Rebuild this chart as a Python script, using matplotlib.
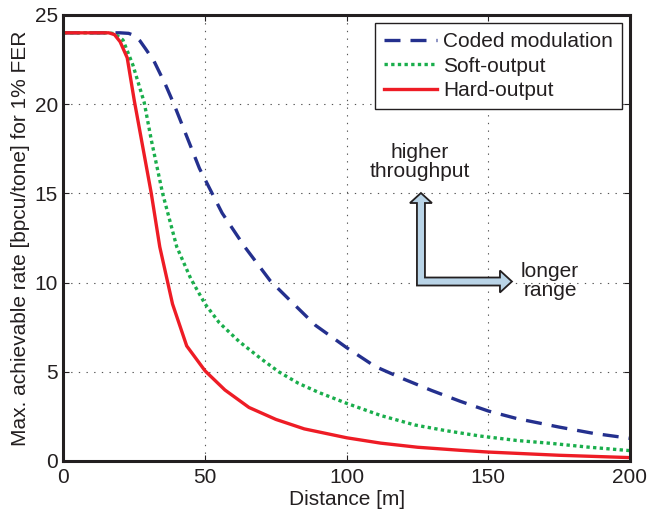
import matplotlib
matplotlib.use("Agg")
import matplotlib.pyplot as plt
import matplotlib.transforms as mtransforms
from matplotlib.patches import Polygon

plt.rcParams['font.family'] = ['Liberation Sans', 'DejaVu Sans']

# Coded modulation (upper bound)
coded_dist = [0, 20, 23, 25, 27, 29, 32, 36, 39, 42, 48, 56, 64, 73, 80, 89, 100,
              110, 120, 130, 140, 150, 160, 175, 187, 200]
coded_rate = [24, 24, 23.97, 23.85, 23.55, 23.1, 22.4, 21.1, 20.0, 18.8, 16.4,
              13.9, 12.0, 10.1, 9.0, 7.6, 6.35, 5.3, 4.6, 3.95, 3.35, 2.8, 2.38,
              1.9, 1.55, 1.27]

# Soft-output detection
soft_dist = [0, 16, 18, 21, 24.5, 28.5, 31, 35, 40, 45, 50, 55, 62, 70, 76, 83,
             90, 100, 112, 124, 135, 147, 160, 172, 185, 200]
soft_rate = [24, 24, 23.95, 23.6, 22.2, 20.1, 18.0, 15.0, 12.0, 10.2, 8.8, 7.75,
             6.7, 5.7, 5.0, 4.35, 3.85, 3.23, 2.55, 2.02, 1.7, 1.4, 1.15, 0.99,
             0.78, 0.58]

# Hard-output detection
hard_dist = [0, 16, 18, 20, 22.5, 25, 28, 31, 34, 38.5, 43.5, 50, 57, 65.5, 75,
             85, 100, 112, 125, 140, 150, 175, 200]
hard_rate = [24, 24, 23.9, 23.5, 22.6, 20.2, 17.6, 15.0, 12.0, 8.8, 6.45, 5.05,
             3.98, 3.0, 2.33, 1.8, 1.3, 1.0, 0.77, 0.6, 0.5, 0.32, 0.19]

series_labels = ['Coded modulation', 'Soft-output', 'Hard-output']
x_ticks = [0, 50, 100, 150, 200]
y_ticks = [0, 5, 10, 15, 20, 25]

ink = '#231f20'
fs = 15

fig = plt.figure(figsize=(6.47, 5.13), dpi=100)
ax = fig.add_axes([0.0981, 0.1014, 0.8756, 0.8694])

lw = 2.4
ax.plot(coded_dist, coded_rate, color='#24308e', lw=lw,
        linestyle=(0, (4.8, 3.0)), dash_capstyle='butt', label=series_labels[0])
ax.plot(soft_dist, soft_rate, color='#1aae4c', lw=lw,
        linestyle=(0, (1.0, 1.0)), dash_capstyle='butt', label=series_labels[1])
ax.plot(hard_dist, hard_rate, color='#ee1c25', lw=lw,
        label=series_labels[2])

ax.set_xlim(0, 200)
ax.set_ylim(0, 25)
ax.set_xticks(x_ticks)
ax.set_yticks(y_ticks)
ax.grid(True, color='#555555', linestyle=(0, (1.2, 5.7)), lw=0.8)
ax.tick_params(direction='in', length=4, width=0.8, colors=ink,
               labelsize=fs, top=True, right=True)
ax.tick_params(axis='x', pad=5)
ax.tick_params(axis='y', pad=4)
for s in ax.spines.values():
    s.set_linewidth(2.2)
    s.set_color(ink)

ax.set_xlabel('Distance [m]', fontsize=fs, color=ink, labelpad=2)
ax.set_ylabel('Max. achievable rate [bpcu/tone] for 1% FER', fontsize=fs,
              color=ink, labelpad=3)

leg = ax.legend(loc='upper right', bbox_to_anchor=(0.986, 0.982),
                fontsize=fs, handlelength=2.5, handletextpad=0.3,
                labelspacing=0.25, borderpad=0.45, borderaxespad=0,
                fancybox=False, framealpha=1)
leg.get_frame().set_edgecolor(ink)
leg.get_frame().set_linewidth(1.0)
for t in leg.get_texts():
    t.set_color(ink)

# L-shaped double arrow (offsets in pixels around the corner point)
corner = (126.2, 10.06)
arrow_px = [(-4, -4), (-4, 78.5), (-11, 78.5), (0, 88.5), (11, 78.5), (4, 78.5),
            (4, 4), (79, 4), (79, 11), (91, 0), (79, -11), (79, -4)]
arrow_in = [(dx / 100.0, dy / 100.0) for dx, dy in arrow_px]
trans = fig.dpi_scale_trans + mtransforms.ScaledTranslation(corner[0], corner[1],
                                                            ax.transData)
ax.add_patch(Polygon(arrow_in, closed=True, transform=trans,
                     facecolor='#b9d4e7', edgecolor=ink, lw=1.3, zorder=5))

ax.text(125.9, 16.75, 'higher\nthroughput', ha='center', va='center',
        fontsize=fs, color=ink, linespacing=1.0)
ax.text(171.8, 10.09, 'longer\nrange', ha='center', va='center',
        fontsize=fs, color=ink, linespacing=1.0)

fig.savefig('out.png', dpi=100)
